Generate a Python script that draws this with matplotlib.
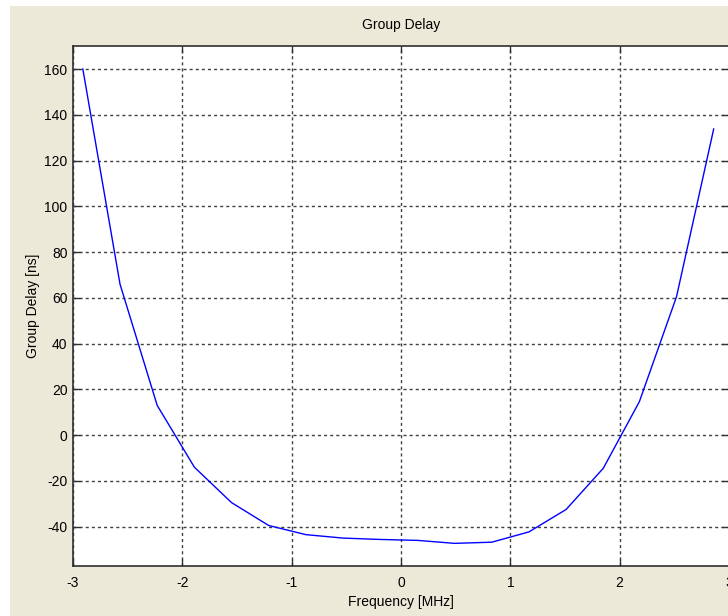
import matplotlib
matplotlib.use("Agg")
import matplotlib.pyplot as plt
from matplotlib.patches import Rectangle

# group delay samples
freq_mhz = [-2.91, -2.57, -2.23, -1.89, -1.55, -1.21, -0.87, -0.53, -0.19,
            0.15, 0.49, 0.83, 1.17, 1.51, 1.85, 2.18, 2.52, 2.86]
delay_ns = [160.0, 66.0, 13.0, -14.0, -29.5, -39.5, -43.5, -45.0, -45.6,
            -46.0, -47.3, -46.8, -42.3, -32.5, -14.5, 14.6, 60.5, 133.8]
xticks = [-3, -2, -1, 0, 1, 2, 3]
yticks = [-40, -20, 0, 20, 40, 60, 80, 100, 120, 140, 160]

plt.rcParams['font.family'] = ['Liberation Sans', 'DejaVu Sans']
plt.rcParams['font.size'] = 10

W, H = 728, 616
fig = plt.figure(figsize=(W / 100, H / 100), dpi=100, facecolor='white')
# grey window background, white strip on top and left
fig.patches.append(Rectangle((10 / W, 0), 1, 1 - 6 / H, transform=fig.transFigure,
                             facecolor='#ECE9D8', edgecolor='none', zorder=-10))

ax = fig.add_axes([73 / W, 50 / H, 656 / W, 520.3 / H])
ax.set_facecolor('white')
ax.plot(freq_mhz, delay_ns, color='#0000FF', lw=1.0, zorder=3)

ax.set_xlim(-3, 3)
ax.set_ylim(-57.2, 170.2)
ax.set_xticks(xticks)
ax.set_yticks(yticks)
ax.set_xticklabels([str(t) for t in xticks])
ax.set_yticklabels([str(t) for t in yticks])

ax.grid(True, color='#404040', linestyle=(0, (2.2, 2.2)), linewidth=1.0)
ax.tick_params(direction='in', length=5, width=1, color='#303030',
               top=True, right=True, labelsize=10, labelcolor='black')
ax.tick_params(axis='x', pad=7)
ax.tick_params(axis='y', pad=4)
for s in ax.spines.values():
    s.set_color('#303030')
    s.set_linewidth(1.2)

ax.set_title('Group Delay', fontsize=10, pad=12)
ax.set_xlabel('Frequency [MHz]', fontsize=10, labelpad=4)
ax.set_ylabel('Group Delay [ns]', fontsize=10, labelpad=3)

fig.savefig('out.png', dpi=100, facecolor=fig.get_facecolor())
